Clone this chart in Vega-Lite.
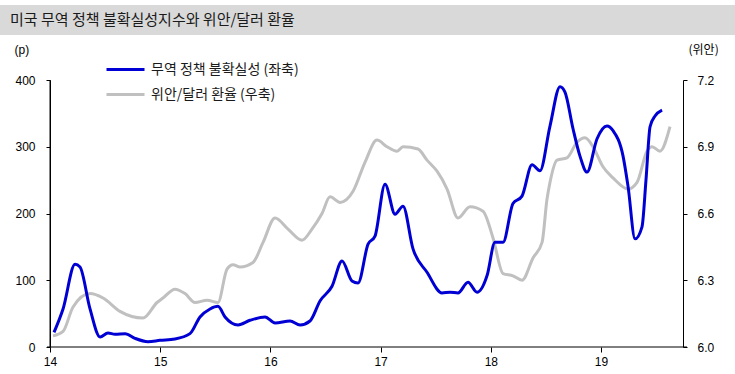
{
  "$schema": "https://vega.github.io/schema/vega-lite/v6.json",
  "padding": {"top": 5, "left": 0, "right": 0, "bottom": 0},
  "background": "white",
  "spacing": 8,
  "config": {
    "view": {"stroke": null},
    "axis": {
      "grid": false,
      "domainColor": "#000000",
      "tickColor": "#000000",
      "labelColor": "#000000",
      "labelFont": "Liberation Sans",
      "labelFontSize": 12,
      "titleColor": "#000000",
      "titleFontWeight": "normal"
    }
  },
  "vconcat": [
    {
      "width": 735,
      "height": 30,
      "data": {"values": [{"title": "미국 무역 정책 불확실성지수와 위안/달러 환율", "pos": 0}]},
      "layer": [
        {"mark": {"type": "rect", "color": "#d9d9d9"}},
        {
          "mark": {"type": "text", "align": "left", "baseline": "middle", "dx": 10, "font": "Noto Sans CJK KR", "fontSize": 15, "color": "#1a1a1a"},
          "encoding": {
            "x": {"field": "pos", "type": "quantitative", "scale": {"domain": [0, 1]}, "axis": null},
            "text": {"field": "title"}
          }
        }
      ]
    },
    {
      "width": 683,
      "height": 267,
      "data": {
        "values": [
          {"series": "무역 정책 불확실성 (좌축)", "t": 2014.036, "v": 22},
          {"series": "무역 정책 불확실성 (좌축)", "t": 2014.118, "v": 57},
          {"series": "무역 정책 불확실성 (좌축)", "t": 2014.227, "v": 124},
          {"series": "무역 정책 불확실성 (좌축)", "t": 2014.272, "v": 120},
          {"series": "무역 정책 불확실성 (좌축)", "t": 2014.363, "v": 57},
          {"series": "무역 정책 불확실성 (좌축)", "t": 2014.454, "v": 15},
          {"series": "무역 정책 불확실성 (좌축)", "t": 2014.526, "v": 21},
          {"series": "무역 정책 불확실성 (좌축)", "t": 2014.590, "v": 19},
          {"series": "무역 정책 불확실성 (좌축)", "t": 2014.681, "v": 20},
          {"series": "무역 정책 불확실성 (좌축)", "t": 2014.771, "v": 13},
          {"series": "무역 정책 불확실성 (좌축)", "t": 2014.889, "v": 8},
          {"series": "무역 정책 불확실성 (좌축)", "t": 2014.998, "v": 10},
          {"series": "무역 정책 불확실성 (좌축)", "t": 2015.134, "v": 12},
          {"series": "무역 정책 불확실성 (좌축)", "t": 2015.270, "v": 20},
          {"series": "무역 정책 불확실성 (좌축)", "t": 2015.361, "v": 45},
          {"series": "무역 정책 불확실성 (좌축)", "t": 2015.452, "v": 57},
          {"series": "무역 정책 불확실성 (좌축)", "t": 2015.524, "v": 61},
          {"series": "무역 정책 불확실성 (좌축)", "t": 2015.588, "v": 45},
          {"series": "무역 정책 불확실성 (좌축)", "t": 2015.706, "v": 33},
          {"series": "무역 정책 불확실성 (좌축)", "t": 2015.815, "v": 40},
          {"series": "무역 정책 불확실성 (좌축)", "t": 2015.951, "v": 45},
          {"series": "무역 정책 불확실성 (좌축)", "t": 2016.042, "v": 36},
          {"series": "무역 정책 불확실성 (좌축)", "t": 2016.178, "v": 39},
          {"series": "무역 정책 불확실성 (좌축)", "t": 2016.269, "v": 33},
          {"series": "무역 정책 불확실성 (좌축)", "t": 2016.359, "v": 39},
          {"series": "무역 정책 불확실성 (좌축)", "t": 2016.450, "v": 69},
          {"series": "무역 정책 불확실성 (좌축)", "t": 2016.559, "v": 91},
          {"series": "무역 정책 불확실성 (좌축)", "t": 2016.650, "v": 129},
          {"series": "무역 정책 불확실성 (좌축)", "t": 2016.740, "v": 99},
          {"series": "무역 정책 불확실성 (좌축)", "t": 2016.795, "v": 96},
          {"series": "무역 정책 불확실성 (좌축)", "t": 2016.886, "v": 154},
          {"series": "무역 정책 불확실성 (좌축)", "t": 2016.949, "v": 166},
          {"series": "무역 정책 불확실성 (좌축)", "t": 2017.040, "v": 244},
          {"series": "무역 정책 불확실성 (좌축)", "t": 2017.131, "v": 199},
          {"series": "무역 정책 불확실성 (좌축)", "t": 2017.203, "v": 211},
          {"series": "무역 정책 불확실성 (좌축)", "t": 2017.294, "v": 147},
          {"series": "무역 정책 불확실성 (좌축)", "t": 2017.421, "v": 112},
          {"series": "무역 정책 불확실성 (좌축)", "t": 2017.557, "v": 81},
          {"series": "무역 정책 불확실성 (좌축)", "t": 2017.630, "v": 82},
          {"series": "무역 정책 불확실성 (좌축)", "t": 2017.702, "v": 81},
          {"series": "무역 정책 불확실성 (좌축)", "t": 2017.793, "v": 97},
          {"series": "무역 정책 불확실성 (좌축)", "t": 2017.875, "v": 82},
          {"series": "무역 정책 불확실성 (좌축)", "t": 2017.966, "v": 107},
          {"series": "무역 정책 불확실성 (좌축)", "t": 2018.038, "v": 157},
          {"series": "무역 정책 불확실성 (좌축)", "t": 2018.111, "v": 157},
          {"series": "무역 정책 불확실성 (좌축)", "t": 2018.201, "v": 215},
          {"series": "무역 정책 불확실성 (좌축)", "t": 2018.283, "v": 226},
          {"series": "무역 정책 불확실성 (좌축)", "t": 2018.374, "v": 273},
          {"series": "무역 정책 불확실성 (좌축)", "t": 2018.446, "v": 264},
          {"series": "무역 정책 불확실성 (좌축)", "t": 2018.537, "v": 331},
          {"series": "무역 정책 불확실성 (좌축)", "t": 2018.628, "v": 390},
          {"series": "무역 정책 불확실성 (좌축)", "t": 2018.673, "v": 382},
          {"series": "무역 정책 불확실성 (좌축)", "t": 2018.746, "v": 327},
          {"series": "무역 정책 불확실성 (좌축)", "t": 2018.809, "v": 286},
          {"series": "무역 정책 불확실성 (좌축)", "t": 2018.873, "v": 262},
          {"series": "무역 정책 불확실성 (좌축)", "t": 2018.964, "v": 312},
          {"series": "무역 정책 불확실성 (좌축)", "t": 2019.054, "v": 331},
          {"series": "무역 정책 불확실성 (좌축)", "t": 2019.109, "v": 324},
          {"series": "무역 정책 불확실성 (좌축)", "t": 2019.200, "v": 286},
          {"series": "무역 정책 불확실성 (좌축)", "t": 2019.245, "v": 241},
          {"series": "무역 정책 불확실성 (좌축)", "t": 2019.309, "v": 162},
          {"series": "무역 정책 불확실성 (좌축)", "t": 2019.372, "v": 180},
          {"series": "무역 정책 불확실성 (좌축)", "t": 2019.408, "v": 250},
          {"series": "무역 정책 불확실성 (좌축)", "t": 2019.445, "v": 330},
          {"series": "무역 정책 불확실성 (좌축)", "t": 2019.490, "v": 346},
          {"series": "무역 정책 불확실성 (좌축)", "t": 2019.554, "v": 355},
          {"series": "위안/달러 환율 (우축)", "t": 2014.027, "v": 6.05},
          {"series": "위안/달러 환율 (우축)", "t": 2014.118, "v": 6.07},
          {"series": "위안/달러 환율 (우축)", "t": 2014.209, "v": 6.18},
          {"series": "위안/달러 환율 (우축)", "t": 2014.363, "v": 6.24},
          {"series": "위안/달러 환율 (우축)", "t": 2014.481, "v": 6.22},
          {"series": "위안/달러 환율 (우축)", "t": 2014.635, "v": 6.16},
          {"series": "위안/달러 환율 (우축)", "t": 2014.844, "v": 6.13},
          {"series": "위안/달러 환율 (우축)", "t": 2014.971, "v": 6.20},
          {"series": "위안/달러 환율 (우축)", "t": 2015.025, "v": 6.22},
          {"series": "위안/달러 환율 (우축)", "t": 2015.134, "v": 6.26},
          {"series": "위안/달러 환율 (우축)", "t": 2015.225, "v": 6.24},
          {"series": "위안/달러 환율 (우축)", "t": 2015.316, "v": 6.20},
          {"series": "위안/달러 환율 (우축)", "t": 2015.425, "v": 6.21},
          {"series": "위안/달러 환율 (우축)", "t": 2015.524, "v": 6.20},
          {"series": "위안/달러 환율 (우축)", "t": 2015.606, "v": 6.35},
          {"series": "위안/달러 환율 (우축)", "t": 2015.661, "v": 6.37},
          {"series": "위안/달러 환율 (우축)", "t": 2015.724, "v": 6.36},
          {"series": "위안/달러 환율 (우축)", "t": 2015.842, "v": 6.38},
          {"series": "위안/달러 환율 (우축)", "t": 2015.933, "v": 6.47},
          {"series": "위안/달러 환율 (우축)", "t": 2016.042, "v": 6.58},
          {"series": "위안/달러 환율 (우축)", "t": 2016.160, "v": 6.53},
          {"series": "위안/달러 환율 (우축)", "t": 2016.287, "v": 6.48},
          {"series": "위안/달러 환율 (우축)", "t": 2016.377, "v": 6.53},
          {"series": "위안/달러 환율 (우축)", "t": 2016.468, "v": 6.60},
          {"series": "위안/달러 환율 (우축)", "t": 2016.541, "v": 6.675},
          {"series": "위안/달러 환율 (우축)", "t": 2016.632, "v": 6.65},
          {"series": "위안/달러 환율 (우축)", "t": 2016.750, "v": 6.70},
          {"series": "위안/달러 환율 (우축)", "t": 2016.858, "v": 6.83},
          {"series": "위안/달러 환율 (우축)", "t": 2016.967, "v": 6.93},
          {"series": "위안/달러 환율 (우축)", "t": 2017.058, "v": 6.90},
          {"series": "위안/달러 환율 (우축)", "t": 2017.149, "v": 6.88},
          {"series": "위안/달러 환율 (우축)", "t": 2017.203, "v": 6.90},
          {"series": "위안/달러 환율 (우축)", "t": 2017.339, "v": 6.89},
          {"series": "위안/달러 환율 (우축)", "t": 2017.421, "v": 6.84},
          {"series": "위안/달러 환율 (우축)", "t": 2017.512, "v": 6.79},
          {"series": "위안/달러 환율 (우축)", "t": 2017.603, "v": 6.71},
          {"series": "위안/달러 환율 (우축)", "t": 2017.702, "v": 6.58},
          {"series": "위안/달러 환율 (우축)", "t": 2017.811, "v": 6.63},
          {"series": "위안/달러 환율 (우축)", "t": 2017.929, "v": 6.61},
          {"series": "위안/달러 환율 (우축)", "t": 2018.020, "v": 6.49},
          {"series": "위안/달러 환율 (우축)", "t": 2018.111, "v": 6.33},
          {"series": "위안/달러 환율 (우축)", "t": 2018.201, "v": 6.32},
          {"series": "위안/달러 환율 (우축)", "t": 2018.283, "v": 6.30},
          {"series": "위안/달러 환율 (우축)", "t": 2018.383, "v": 6.40},
          {"series": "위안/달러 환율 (우축)", "t": 2018.465, "v": 6.47},
          {"series": "위안/달러 환율 (우축)", "t": 2018.510, "v": 6.665},
          {"series": "위안/달러 환율 (우축)", "t": 2018.537, "v": 6.74},
          {"series": "위안/달러 환율 (우축)", "t": 2018.601, "v": 6.84},
          {"series": "위안/달러 환율 (우축)", "t": 2018.691, "v": 6.85},
          {"series": "위안/달러 환율 (우축)", "t": 2018.782, "v": 6.92},
          {"series": "위안/달러 환율 (우축)", "t": 2018.855, "v": 6.94},
          {"series": "위안/달러 환율 (우축)", "t": 2018.927, "v": 6.90},
          {"series": "위안/달러 환율 (우축)", "t": 2019.018, "v": 6.81},
          {"series": "위안/달러 환율 (우축)", "t": 2019.109, "v": 6.76},
          {"series": "위안/달러 환율 (우축)", "t": 2019.245, "v": 6.71},
          {"series": "위안/달러 환율 (우축)", "t": 2019.327, "v": 6.74},
          {"series": "위안/달러 환율 (우축)", "t": 2019.417, "v": 6.88},
          {"series": "위안/달러 환율 (우축)", "t": 2019.463, "v": 6.90},
          {"series": "위안/달러 환율 (우축)", "t": 2019.535, "v": 6.88},
          {"series": "위안/달러 환율 (우축)", "t": 2019.626, "v": 6.99}
        ]
      },
      "encoding": {
        "x": {
          "field": "t",
          "type": "quantitative",
          "scale": {"domain": [2013.546, 2019.744], "nice": false, "zero": false},
          "axis": {
            "values": [2014, 2015, 2016, 2017, 2018, 2019],
            "labelExpr": "format(datum.value - 2000, 'd')",
            "domain": false,
            "tickSize": 5,
            "labelPadding": 4,
            "title": null
          }
        },
        "color": {
          "field": "series",
          "type": "nominal",
          "scale": {
            "domain": ["무역 정책 불확실성 (좌축)", "위안/달러 환율 (우축)"],
            "range": ["#0000d4", "#c0c0c0"]
          },
          "legend": {
            "title": null,
            "orient": "none",
            "legendX": 114.5,
            "legendY": 53.5,
            "padding": 0,
            "symbolType": "M-2,0H2",
            "symbolStrokeWidth": 3,
            "symbolSize": 361,
            "labelFont": "Noto Sans CJK KR",
            "labelFontSize": 14,
            "labelColor": "#1a1a1a",
            "labelOffset": 14.5,
            "rowPadding": 7
          }
        }
      },
      "layer": [
        {
          "data": {
            "values": [
              {"from": 2013.973, "to": 2019.78, "lo": 0, "hi": 0},
              {"from": 2014, "to": 2014, "lo": 0, "hi": 400}
            ]
          },
          "mark": {"type": "rule", "color": "#000000", "strokeWidth": 1},
          "encoding": {
            "x": {"field": "from", "type": "quantitative"},
            "x2": {"field": "to"},
            "y": {"field": "lo", "type": "quantitative", "scale": {"domain": [0, 400]}, "axis": null},
            "y2": {"field": "hi"},
            "color": {"value": "#000000"}
          }
        },
        {
          "transform": [{"filter": {"field": "series", "equal": "위안/달러 환율 (우축)"}}],
          "mark": {"type": "line", "interpolate": "monotone", "strokeWidth": 3},
          "encoding": {
            "y": {
              "field": "v",
              "type": "quantitative",
              "scale": {"domain": [6.0, 7.2], "nice": false, "zero": false},
              "axis": {
                "orient": "right",
                "values": [6.0, 6.3, 6.6, 6.9, 7.2],
                "format": ".1f",
                "tickSize": 4,
                "labelPadding": 10,
                "title": "(위안)",
                "titleFont": "Noto Sans CJK KR",
                "titleFontSize": 12,
                "titleAngle": 0,
                "titleX": 5,
                "titleY": -31,
                "titleAlign": "left",
                "titleBaseline": "middle"
              }
            }
          }
        },
        {
          "transform": [{"filter": {"field": "series", "equal": "무역 정책 불확실성 (좌축)"}}],
          "mark": {"type": "line", "interpolate": "monotone", "strokeWidth": 3},
          "encoding": {
            "y": {
              "field": "v",
              "type": "quantitative",
              "scale": {"domain": [0, 400], "nice": false},
              "axis": {
                "orient": "left",
                "offset": -50,
                "domain": true,
                "ticks": true,
                "values": [0, 100, 200, 300, 400],
                "tickSize": 4,
                "labelPadding": 11,
                "title": "(p)",
                "titleFont": "Liberation Sans",
                "titleFontSize": 12,
                "titleAngle": 0,
                "titleX": -36,
                "titleY": -31,
                "titleAlign": "left",
                "titleBaseline": "middle"
              }
            }
          }
        }
      ],
      "resolve": {"scale": {"y": "independent"}}
    }
  ]
}
